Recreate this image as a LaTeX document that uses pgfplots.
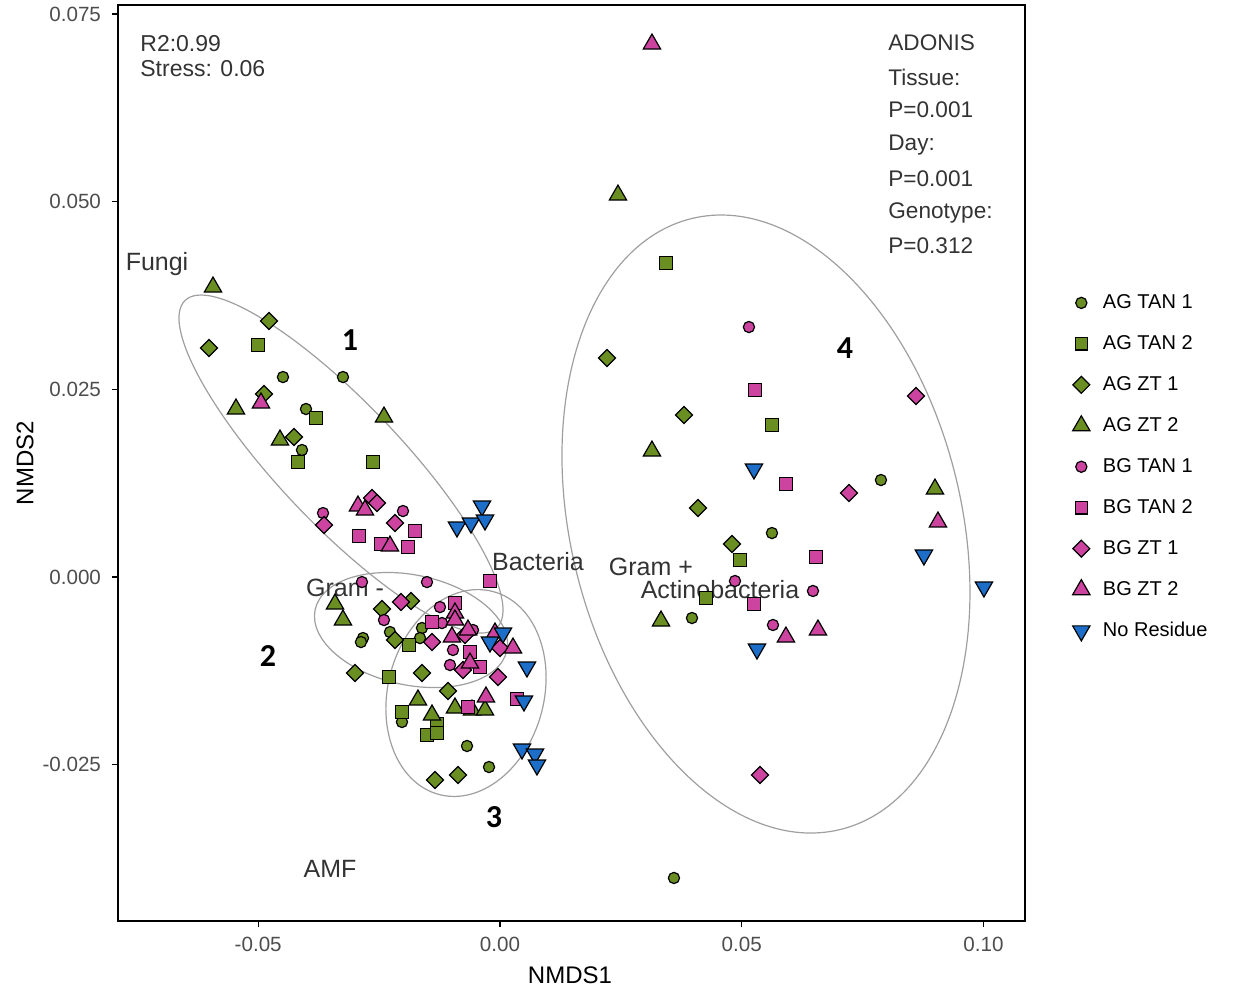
\documentclass[border=0pt]{standalone}
\usepackage{pgfplots}
\pgfplotsset{compat=1.18}
\usepackage{fontspec}
\setmainfont{Liberation Sans}
\newfontfamily\calfont{Carlito}
\definecolor{agg}{RGB}{107,142,35}
\definecolor{bgp}{RGB}{204,68,160}
\definecolor{nrb}{RGB}{28,110,200}
\definecolor{tickgray}{RGB}{77,77,77}
\definecolor{txtgray}{RGB}{51,51,51}
\pgfplotsset{
  mk/.style={only marks, mark options={draw=black, line width=0.6pt, fill=#1}},
  mkr/.style={only marks, mark options={draw=black, line width=0.6pt, fill=#1, rotate=45}},
  mkd/.style={only marks, mark options={draw=black, line width=0.6pt, fill=#1, rotate=180}},
}
\begin{document}
\begin{tikzpicture}
\useasboundingbox (-59pt,-35.5pt) rectangle (560.5pt,460.5pt);
\begin{axis}[
  scale only axis, width=453.5pt, height=458pt,
  xmin=-0.0790, xmax=0.10858, ymin=-0.04582, ymax=0.07620,
  axis line style={line width=1pt, black},
  tick pos=left, tick align=outside, major tick length=3pt,
  tick style={black, line width=0.6pt},
  xtick={-0.05,0,0.05,0.1}, xticklabels={-0.05,0.00,0.05,0.10},
  ytick={-0.025,0,0.025,0.05,0.075}, yticklabels={-0.025,0.000,0.025,0.050,\raisebox{-1.5pt}{0.075}},
  ticklabel style={font=\fontsize{10.3}{12}\selectfont, text=tickgray},
  yticklabel style={xshift=-2pt},
  xticklabel style={yshift=-1.5pt},
  xlabel={NMDS1}, ylabel={NMDS2},
  label style={font=\fontsize{12}{14}\selectfont},
  xlabel style={at={(axis description cs:0.4983,-0.059)}, anchor=center},
  ylabel style={at={(axis description cs:-0.1025,0.5)}, anchor=center},
  legend cell align=left,
  legend style={draw=none, fill=none, at={(axis description cs:1.0455,0.4956)}, anchor=west,
    font=\fontsize{10}{12}\selectfont, row sep=8pt,
    /tikz/every odd column/.append style={column sep=4.5pt}},
  clip=false,
]
% AG TAN 1
\addplot[mk=agg, mark=*, mark size=2.8pt] coordinates {
(-0.04488,0.02664) (-0.03247,0.02664) (-0.04012,0.02238) (-0.04095,0.01692)
(-0.02275,-0.00733) (-0.02833,-0.00813) (-0.02875,-0.00866) (-0.01613,-0.00679)
(-0.01654,-0.00813) (-0.02027,-0.01931) (-0.00682,-0.02251) (-0.00227,-0.02531)
(0.07879,0.01292) (0.05625,0.00586) (0.03971,-0.00546) (0.03598,-0.04009)
};
% AG TAN 2
\addplot[mk=agg, mark=square*, mark size=3.1pt] coordinates {
(-0.05005,0.0309) (-0.03805,0.02118) (-0.04177,0.01532) (-0.02626,0.01532)
(-0.01882,-0.00906) (-0.02295,-0.01332) (-0.02027,-0.01798) (-0.01303,-0.01958)
(-0.0151,-0.02105) (-0.01303,-0.02078)
(0.03433,0.04182) (0.05625,0.02025) (0.04963,0.00226) (0.0426,-0.0028)
};
% AG ZT 1
\addplot[mkr=agg, mark=square*, mark size=3.0pt] coordinates {
(-0.04777,0.0341) (-0.06018,0.0305) (-0.0488,0.02438) (-0.0426,0.01865)
(-0.0184,-0.0032) (-0.0244,-0.00426) (-0.02171,-0.00839) (-0.02999,-0.01279)
(-0.01613,-0.01279) (-0.01075,-0.01518) (-0.01344,-0.02704) (-0.00869,-0.02637)
(0.02213,0.02917) (0.03805,0.02158) (0.04095,0.00919) (0.04798,0.0044)
};
% AG ZT 2
\addplot[mk=agg, mark=triangle*, mark size=5pt] coordinates {
(-0.05935,0.03863) (-0.0546,0.02238) (-0.0455,0.01825) (-0.02399,0.02131)
(-0.03412,-0.0036) (-0.03247,-0.00573) (-0.01696,-0.01638) (-0.01406,-0.01838)
(-0.00931,-0.01745) (-0.00579,-0.01772) (-0.0031,-0.01772)
(0.0244,0.05088) (0.03143,0.01678) (0.08996,0.01172) (0.0333,-0.00586)
};
% BG TAN 1
\addplot[mk=bgp, mark=*, mark size=2.8pt] coordinates {
(-0.0366,0.00852) (-0.02006,0.00879) (-0.02854,-0.00067) (-0.0151,-0.00067)
(-0.02399,-0.00573) (-0.01241,-0.004) (-0.01199,-0.00613) (-0.00558,-0.00706)
(-0.00972,-0.00972) (-0.01034,-0.01172)
(0.05149,0.0333) (0.0486,-0.00053) (0.06473,-0.00186) (0.05646,-0.00639)
};
% BG TAN 2
\addplot[mk=bgp, mark=square*, mark size=3.1pt] coordinates {
(-0.02916,0.00546) (-0.02461,0.0044) (-0.01903,0.004) (-0.01758,0.00613)
(-0.00207,-0.00053) (-0.00931,-0.00346) (-0.01406,-0.00599) (-0.0062,-0.00999)
(-0.00414,-0.01199) (-0.00662,-0.01732) (0.00352,-0.01625)
(0.05273,0.02491) (0.05914,0.01239) (0.06535,0.00266) (0.05253,-0.0036)
};
% BG ZT 1
\addplot[mkr=bgp, mark=square*, mark size=3.0pt] coordinates {
(-0.0364,0.00693) (-0.02647,0.01052) (-0.02544,0.00986) (-0.02171,0.00719)
(-0.02047,-0.00333) (-0.01406,-0.00866) (-0.00724,-0.00773) (-0.00765,-0.01239)
(0.0,-0.00946) (-0.00041,-0.01332)
(0.08603,0.02411) (0.07217,0.01119) (0.05377,-0.02637)
};
% BG ZT 2
\addplot[mk=bgp, mark=triangle*, mark size=5pt] coordinates {
(-0.04943,0.02318) (-0.02937,0.00946) (-0.02792,0.00892) (-0.02275,0.00413)
(-0.00931,-0.0048) (-0.00931,-0.00573) (-0.00993,-0.00799) (-0.00662,-0.00706)
(-0.00103,-0.00746) (0.00269,-0.00946) (-0.0062,-0.01146) (-0.0029,-0.01598)
(0.03143,0.071) (0.09058,0.00733) (0.05914,-0.00799) (0.06576,-0.00706)
};
% No Residue
\addplot[mkd=nrb, mark=triangle*, mark size=5pt] coordinates {
(-0.00889,0.00666) (-0.006,0.00719) (-0.00372,0.00946) (-0.0031,0.00759)
(-0.00207,-0.00866) (0.00062,-0.00746) (0.00558,-0.01199) (0.00496,-0.01652)
(0.00455,-0.02291) (0.00724,-0.02358) (0.00765,-0.02504)
(0.05253,0.01439) (0.08768,0.00293) (0.10009,-0.00133) (0.05315,-0.00959)
};
\legend{AG TAN 1, AG TAN 2, AG ZT 1, AG ZT 2, BG TAN 1, BG TAN 2, BG ZT 1, BG ZT 2, No Residue}

% ellipses
\draw[gray!75, line width=0.6pt] (axis cs:-0.03288,0.01505) circle [x radius=113pt, y radius=30.5pt, rotate=-46.4];
\draw[gray!75, line width=0.6pt] (axis cs:-0.0184,-0.00706) circle [x radius=49pt, y radius=27.5pt, rotate=-12];
\draw[gray!75, line width=0.6pt] (axis cs:-0.00703,-0.01545) circle [x radius=39pt, y radius=52.5pt, rotate=-15];
\draw[gray!75, line width=0.6pt] (axis cs:0.05501,0.00706) circle [x radius=97.75pt, y radius=157.2pt, rotate=13.65];

% annotations
\begin{scope}[every node/.style={text=txtgray, inner sep=0pt}]
\node[anchor=west, font=\fontsize{11.5}{13}\selectfont] at (axis cs:-0.07445,0.0710) {R2:0.99};
\node[anchor=west, font=\fontsize{11.5}{13}\selectfont] at (axis cs:-0.07445,0.06767) {Stress: 0.06};
\node[anchor=west, font=\fontsize{11.3}{13}\selectfont] at (axis cs:0.08024,0.07113) {ADONIS};
\node[anchor=west, font=\fontsize{11.3}{13}\selectfont] at (axis cs:0.08024,0.0666) {Tissue:};
\node[anchor=west, font=\fontsize{11.3}{13}\selectfont] at (axis cs:0.08024,0.0622) {P=0.001};
\node[anchor=west, font=\fontsize{11.3}{13}\selectfont] at (axis cs:0.08024,0.05754) {Day:};
\node[anchor=west, font=\fontsize{11.3}{13}\selectfont] at (axis cs:0.08024,0.05301) {P=0.001};
\node[anchor=west, font=\fontsize{11.3}{13}\selectfont] at (axis cs:0.08024,0.04849) {Genotype:};
\node[anchor=west, font=\fontsize{11.3}{13}\selectfont] at (axis cs:0.08024,0.04409) {P=0.312};
\node[font=\fontsize{12.5}{14}\selectfont] at (axis cs:-0.07093,0.04169) {Fungi};
\node[font=\fontsize{12.5}{14}\selectfont] at (axis cs:-0.03205,-0.00147) {Gram -};
\node[font=\fontsize{12.5}{14}\selectfont] at (axis cs:0.00786,0.0020) {Bacteria};
\node[font=\fontsize{12.5}{14}\selectfont] at (axis cs:0.03123,0.00133) {Gram +};
\node[font=\fontsize{12.5}{14}\selectfont] at (axis cs:0.0455,-0.00173) {Actinobacteria};
\node[font=\fontsize{12.5}{14}\selectfont] at (axis cs:-0.03516,-0.0389) {AMF};
\end{scope}
\begin{scope}[every node/.style={text=black, inner sep=0pt, font=\calfont\bfseries\fontsize{16}{18}\selectfont}]
\node at (axis cs:-0.03102,0.03157) {1};
\node at (axis cs:-0.04798,-0.01052) {2};
\node at (axis cs:-0.00124,-0.03197) {3};
\node at (axis cs:0.07135,0.0305) {4};
\end{scope}
\end{axis}
\end{tikzpicture}
\end{document}
